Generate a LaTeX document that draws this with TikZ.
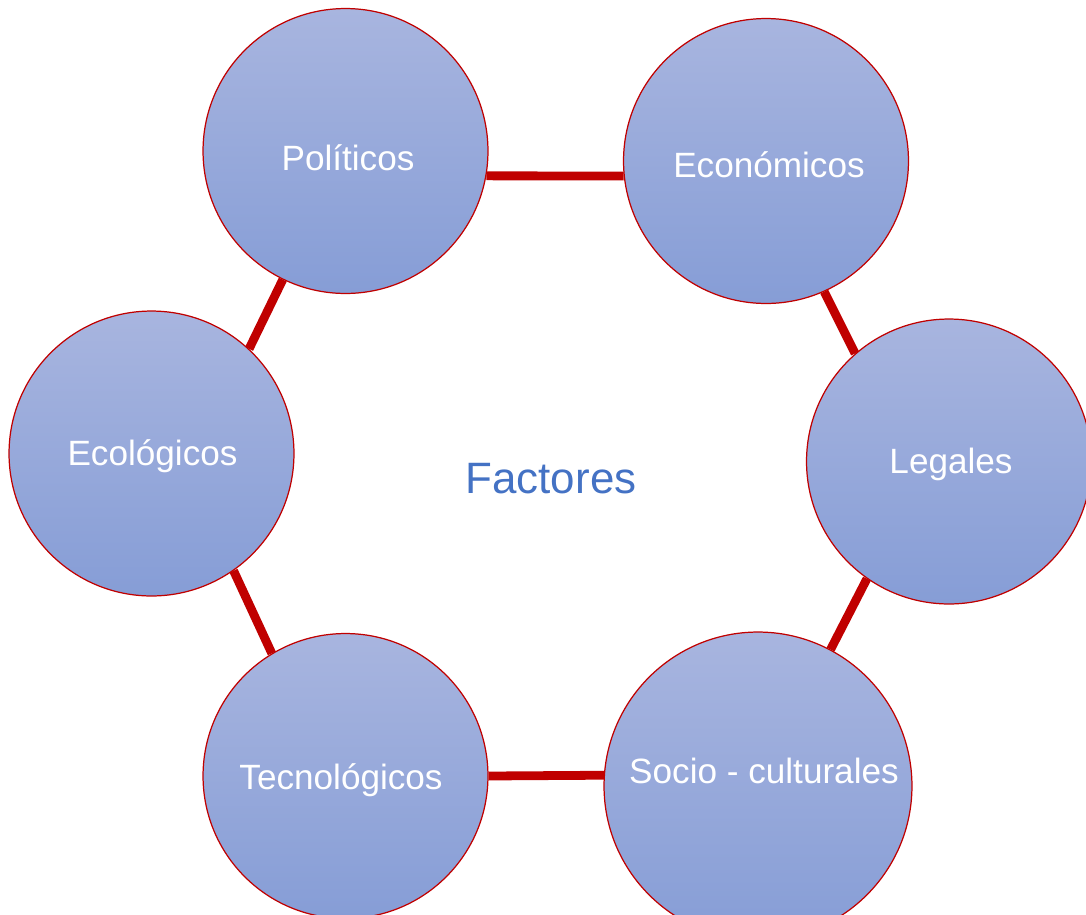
\documentclass[tikz,border=0pt]{standalone}
\usepackage{fontspec}
\setmainfont{Liberation Sans}
\usepackage{tikz}
\usetikzlibrary{backgrounds}

\definecolor{ringred}{RGB}{192,0,0}
\definecolor{discTop}{RGB}{168,181,223}
\definecolor{discBottom}{RGB}{134,157,214}
\definecolor{titleblue}{RGB}{68,114,196}

\tikzset{
    factor/.style={circle, draw=ringred, line width=0.7pt, inner sep=0pt,
        top color=discTop, bottom color=discBottom, minimum size=5.7cm},
    factorlabel/.style={anchor=base, text=white, font=\fontsize{20}{24}\selectfont},
    link/.style={ringred, line width=5pt}
}

\begin{document}
\begin{tikzpicture}[x=0.02cm, y=-0.02cm]
        \useasboundingbox (0,0) rectangle (1086,914);

        % Circles
        \node[factor] (pol) at (345.5,151) {};
        \node[factor] (eco) at (766,161) {};
        \node[factor] (leg) at (949,461.5) {};
        \node[factor, minimum size=6.16cm] (soc) at (758,786) {};
        \node[factor] (tec) at (345.5,776) {};
        \node[factor] (ecl) at (151.5,453.5) {};

        % Labels
        \node[factorlabel] (pol-t) at (348,170) {Políticos};
        \node[factorlabel] (eco-t) at (769,177) {Económicos};
        \node[factorlabel] (leg-t) at (951,473) {Legales};
        \node[factorlabel] (soc-t) at (764,783) {Socio - culturales};
        \node[factorlabel] (tec-t) at (341,789) {Tecnológicos};
        \node[factorlabel] (ecl-t) at (152.5,465) {Ecológicos};

        % Centre title
        \node[anchor=base, text=titleblue, font=\fontsize{25}{30}\selectfont] (title) at (551,493) {Factores};

        % Links between circles
        \begin{pgfonlayer}{background}
            \draw[link] (pol.-10.5) -- (eco.186.4);
            \draw[link] (eco.-66.5) -- (leg.131);
            \draw[link] (leg.-125.3) -- (soc.62.1);
            \draw[link] (soc.176.6) -- (tec.0);
            \draw[link] (tec.121.3) -- (ecl.-55.8);
            \draw[link] (ecl.47.8) -- (pol.244.1);
        \end{pgfonlayer}
    \end{tikzpicture}
\end{document}
